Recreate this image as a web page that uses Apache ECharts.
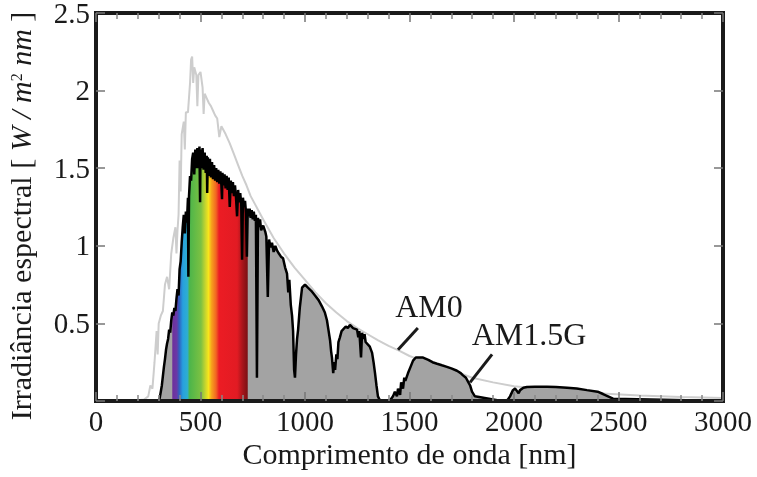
<!DOCTYPE html>
<html>
<head>
<meta charset="utf-8">
<script src="https://cdn.jsdelivr.net/npm/echarts@6/dist/echarts.min.js"></script>
<style>html,body{margin:0;padding:0;background:#fff}#c{width:757px;height:477px}</style>
</head>
<body>
<div id="c"></div>
<script>
// ---- data ----
var xTicks = [0, 500, 1000, 1500, 2000, 2500, 3000];
var yTicks = [0.5, 1, 1.5, 2, 2.5];

var am0Wl = [0,100,200,230,250,260,270,280,290,295,300,310,320,330,340,350,360,370,380,385,390,395,400,405,410,420,425,430,440,450,455,460,465,470,480,485,490,500,510,515,520,530,540,550,560,570,580,590,600,620,640,660,680,700,720,740,760,780,800,850,900,950,1000,1050,1100,1150,1200,1250,1300,1350,1400,1450,1500,1550,1600,1700,1800,1900,2000,2200,2400,2600,2800,3000];
var am0Val = [0,0,0.005,0.01,0.03,0.1,0.08,0.25,0.45,0.3,0.5,0.55,0.58,0.75,0.8,0.72,0.95,1.05,1.12,0.95,1.1,1.2,1.55,1.35,1.72,1.8,1.62,1.86,1.86,2.05,2.2,2.22,2.05,2.15,2.1,1.9,2.1,2.12,2.02,1.85,1.98,1.95,1.92,1.9,1.87,1.84,1.82,1.7,1.77,1.72,1.66,1.59,1.52,1.45,1.39,1.32,1.27,1.22,1.17,1.05,0.95,0.86,0.78,0.7,0.63,0.57,0.515,0.47,0.43,0.39,0.355,0.325,0.29,0.265,0.24,0.2,0.15,0.12,0.095,0.07,0.05,0.035,0.026,0.02];

var am15Wl = [0,300,305,310,315,320,325,330,335,340,345,350,355,360,365,370,375,380,385,390,395,400,405,410,415,420,425,430,435,440,442,445,450,455,460,465,470,475,480,485,490,495,498,500,505,510,515,520,525,530,532,535,540,545,550,555,560,565,570,575,580,585,590,595,600,603,605,610,615,620,625,630,635,640,645,650,655,660,665,670,675,680,685,690,695,699,703,708,713,718,722,726,730,735,740,745,750,755,760,765,770,775,780,785,790,800,810,815,822,828,835,842,850,858,866,875,885,895,905,914,920,925,932,938,943,948,952,957,962,967,975,986,1000,1014,1030,1048,1065,1081,1095,1105,1112,1120,1125,1129,1135,1140,1144,1150,1155,1160,1167,1175,1182,1195,1205,1215,1230,1249,1255,1260,1268,1273,1280,1285,1290,1297,1310,1321,1328,1335,1342,1349,1360,1400,1410,1421,1430,1440,1445,1455,1460,1469,1475,1480,1493,1505,1517,1530,1550,1565,1590,1610,1632,1655,1679,1700,1727,1745,1756,1770,1780,1790,1799,1813,1940,1960,1971,1981,1995,2005,2014,2022,2029,2045,2062,2100,2158,2200,2254,2300,2349,2400,2426,2450,2474,3000];
var am15Val = [0,0,0.02,0.06,0.1,0.16,0.22,0.27,0.33,0.37,0.4,0.46,0.44,0.52,0.57,0.55,0.6,0.58,0.66,0.72,0.68,0.85,0.9,1.02,1.12,1.2,1.08,1.22,1.15,1.31,0.8,1.32,1.45,1.42,1.56,1.6,1.46,1.62,1.5,1.63,1.5,1.64,1.28,1.62,1.5,1.63,1.49,1.6,1.47,1.58,1.34,1.57,1.45,1.56,1.44,1.54,1.43,1.52,1.42,1.5,1.41,1.49,1.4,1.48,1.39,1.3,1.47,1.39,1.46,1.37,1.45,1.36,1.44,1.25,1.42,1.34,1.41,1.32,1.39,1.31,1.19,1.36,1.28,1.34,1.27,0.91,1.31,1.25,1.29,1.21,0.93,1.24,1.19,1.24,1.18,1.23,1.17,1.22,1.16,1.2,0.15,1.18,1.12,1.17,1.1,1.13,1.09,1.06,0.67,1.04,0.99,1.02,0.96,1.0,0.97,0.95,0.93,0.92,0.86,0.82,0.7,0.78,0.62,0.55,0.45,0.2,0.15,0.3,0.4,0.46,0.6,0.73,0.75,0.73,0.71,0.68,0.65,0.61,0.57,0.52,0.46,0.39,0.32,0.28,0.18,0.25,0.2,0.3,0.27,0.38,0.41,0.45,0.46,0.48,0.47,0.49,0.47,0.46,0.41,0.45,0.28,0.44,0.4,0.43,0.38,0.39,0.35,0.31,0.25,0.18,0.1,0.03,0,0,0.01,0.03,0.06,0.03,0.08,0.04,0.12,0.08,0.15,0.13,0.18,0.22,0.26,0.28,0.28,0.28,0.265,0.25,0.24,0.23,0.22,0.21,0.195,0.18,0.165,0.15,0.125,0.1,0.06,0.03,0,0,0.01,0.03,0.07,0.08,0.065,0.05,0.07,0.085,0.09,0.092,0.092,0.09,0.085,0.08,0.07,0.06,0.045,0.03,0.015,0,0];

var visibleRange = [365, 726];
var labelNames = ['AM0', 'AM1.5G'];
var xTitle = 'Comprimento de onda [nm]';
// y title pieces: [text, kind] (n = upright, i = italic, s = superscript)
var yTitleParts = [['Irradiância espectral [ ', 'n'], ['W / m', 'i'], ['2', 's'], [' nm', 'i'], [' ]', 'n']];

// ---- build ----
function zip(a, b) { return a.map(function (v, i) { return [v, b[i]]; }); }
var am0 = zip(am0Wl, am0Val);
var am15 = zip(am15Wl, am15Val);
var am15Vis = am15.filter(function (p) { return p[0] >= visibleRange[0] && p[0] <= visibleRange[1]; });

var FAM = "'Liberation Serif', 'Times New Roman', serif";
var INK = '#1a1a1a';

var chart = echarts.init(document.getElementById('c'), null, { renderer: 'canvas' });

function xAx(pos) {
  return {
    type: 'value', position: pos, min: xTicks[0], max: xTicks[xTicks.length - 1], interval: 500, z: 10,
    axisLine: { show: true, onZero: false, lineStyle: { color: INK, width: 4 } },
    axisTick: { show: true, inside: true, length: 9, lineStyle: { color: '#777', width: 1.5 } },
    minorTick: { show: true, splitNumber: 5, length: 6, lineStyle: { color: '#888', width: 1.5 } },
    splitLine: { show: false }, minorSplitLine: { show: false },
    axisLabel: { show: false },
    name: pos === 'bottom' ? xTitle : '',
    nameLocation: 'middle', nameGap: 40,
    nameTextStyle: { fontSize: 30, fontFamily: FAM, color: INK }
  };
}
function yAx(pos) {
  return {
    type: 'value', position: pos, min: 0, max: yTicks[yTicks.length - 1], interval: 0.5, z: 10,
    axisLine: { show: true, onZero: false, lineStyle: { color: INK, width: 4 } },
    axisTick: { show: true, inside: true, length: 9, lineStyle: { color: '#777', width: 1.5 } },
    splitLine: { show: false },
    axisLabel: { show: false }
  };
}

var option = {
  animation: false,
  backgroundColor: '#fff',
  textStyle: { fontFamily: FAM },
  grid: { left: 96, right: 34, top: 13, bottom: 76, show: true, borderColor: INK, borderWidth: 4, backgroundColor: 'transparent' },
  xAxis: [xAx('bottom'), xAx('top')],
  yAxis: [yAx('left'), yAx('right')],
  series: [
    {
      name: 'AM0', type: 'line', data: am0, showSymbol: false, symbol: 'none',
      lineStyle: { color: '#cdcdcd', width: 2 }, z: 2
    },
    {
      name: 'AM1.5G fill', type: 'line', data: am15, showSymbol: false, symbol: 'none',
      lineStyle: { width: 0 }, areaStyle: { color: '#a3a3a3', opacity: 1 }, z: 3
    },
    {
      name: 'visible', type: 'line', data: am15Vis, showSymbol: false, symbol: 'none',
      lineStyle: { width: 0 },
      areaStyle: {
        opacity: 1,
        color: new echarts.graphic.LinearGradient(0, 0, 1, 0, [
          { offset: 0.0, color: '#6d2f9c' },
          { offset: 0.06, color: '#6a3aa6' },
          { offset: 0.09, color: '#2f5fbf' },
          { offset: 0.14, color: '#27a0df' },
          { offset: 0.2, color: '#2eaed0' },
          { offset: 0.23, color: '#4db54a' },
          { offset: 0.38, color: '#7cc142' },
          { offset: 0.44, color: '#c8d62e' },
          { offset: 0.48, color: '#f7e51c' },
          { offset: 0.52, color: '#f7a21c' },
          { offset: 0.58, color: '#f26522' },
          { offset: 0.62, color: '#ec1c24' },
          { offset: 0.86, color: '#e21b23' },
          { offset: 0.93, color: '#a8151b' },
          { offset: 1.0, color: '#7a1014' }
        ])
      },
      z: 4
    },
    {
      name: 'AM1.5G', type: 'line', data: am15, showSymbol: false, symbol: 'none',
      lineStyle: { color: '#000', width: 2.5 }, z: 5
    }
  ]
};
chart.setOption(option);

// text placed through the axes' own scales
function px(p) { return chart.convertToPixel({ gridIndex: 0 }, p); }
var g = [];
xTicks.forEach(function (t) {
  var p = px([t, 0]);
  g.push({ type: 'text', x: p[0], y: p[1] + 8, z: 20,
    style: { text: String(t), fontSize: 29, fontFamily: FAM, fill: INK, textAlign: 'center', textVerticalAlign: 'top' } });
});
yTicks.forEach(function (t) {
  var p = px([0, t]);
  g.push({ type: 'text', x: p[0] - 6, y: p[1] + 2, z: 20,
    style: { text: String(t), fontSize: 29, fontFamily: FAM, fill: INK, textAlign: 'right', textVerticalAlign: 'middle' } });
});

// y title: pieces laid out along a rotated group, widths measured with canvas
var mctx = document.createElement('canvas').getContext('2d');
function pieceStyle(kind) {
  if (kind === 's') return { fontSize: 16, fontStyle: 'normal' };
  if (kind === 'i') return { fontSize: 30, fontStyle: 'italic' };
  return { fontSize: 30, fontStyle: 'normal' };
}
var widths = yTitleParts.map(function (pp) {
  var st = pieceStyle(pp[1]);
  mctx.font = st.fontStyle + ' ' + st.fontSize + 'px ' + FAM;
  return mctx.measureText(pp[0]).width;
});
var totalW = widths.reduce(function (a, b) { return a + b; }, 0);
var children = [];
var cursor = -totalW / 2;
yTitleParts.forEach(function (pp, i) {
  var st = pieceStyle(pp[1]);
  children.push({
    type: 'text', x: cursor, y: pp[1] === 's' ? -5 : 0,
    style: { text: pp[0], fontSize: st.fontSize, fontStyle: st.fontStyle, fontFamily: FAM, fill: INK, textAlign: 'left', textVerticalAlign: 'middle' }
  });
  cursor += widths[i];
});
var yc = px([0, 1.25]);
g.push({ type: 'group', x: yc[0] - 73, y: yc[1] + 9, rotation: Math.PI / 2, z: 20, children: children });

var a0a = px([1445, 0.33]), a0b = px([1540, 0.47]);
var a1a = px([1790, 0.12]), a1b = px([1895, 0.30]);
var t0 = px([1593, 0.49]), t1 = px([2072, 0.31]);
g.push(
  { type: 'line', shape: { x1: a0a[0], y1: a0a[1], x2: a0b[0], y2: a0b[1] }, style: { stroke: INK, lineWidth: 3 }, z: 20 },
  { type: 'line', shape: { x1: a1a[0], y1: a1a[1], x2: a1b[0], y2: a1b[1] }, style: { stroke: INK, lineWidth: 3 }, z: 20 },
  { type: 'text', x: t0[0], y: t0[1], style: { text: labelNames[0], fontSize: 32, fontFamily: FAM, fill: INK, textAlign: 'center', textVerticalAlign: 'bottom' }, z: 20 },
  { type: 'text', x: t1[0], y: t1[1], style: { text: labelNames[1], fontSize: 32, fontFamily: FAM, fill: INK, textAlign: 'center', textVerticalAlign: 'bottom' }, z: 20 }
);
chart.setOption({ graphic: g });
</script>
</body>
</html>
